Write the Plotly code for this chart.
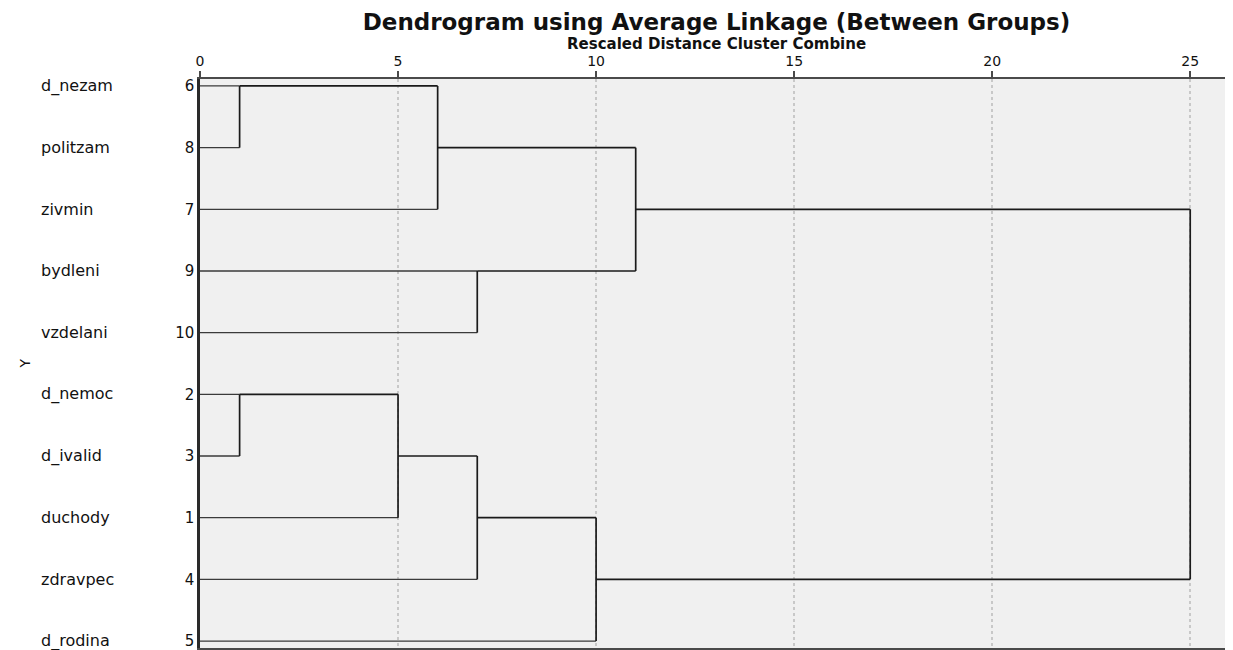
import plotly.graph_objects as go

# Color constants
LINE_DARK = "#1a1a1a"
LEAF_LINE = "#3a3a3a"
AXIS_LINE = "#4a4a4a"
GRID = "#c8c8c8"
PLOT_BG = "#f0f0f0"
TEXT = "#111111"
FONT = "DejaVu Sans"

# Leaves, top to bottom
labels = ["d_nezam", "politzam", "zivmin", "bydleni", "vzdelani",
          "d_nemoc", "d_ivalid", "duchody", "zdravpec", "d_rodina"]
case_numbers = [6, 8, 7, 9, 10, 2, 3, 1, 4, 5]

# Merge steps: (left child, right child, rescaled distance)
# children are case numbers (int) or names of earlier clusters (str)
merge_left = [6, 2, "B", "A", 9, "C", "F", "D", "H"]
merge_right = [8, 3, 1, 7, 10, 4, 5, "E", "G"]
merge_height = [1.0, 1.0, 5.0, 6.0, 7.0, 7.0, 10.0, 11.0, 25.0]
merge_names = ["A", "B", "C", "D", "E", "F", "G", "H", "I"]

x_ticks = [0, 5, 10, 15, 20, 25]

# node positions: y = row index, x = height where node sits
pos_y = {c: i for i, c in enumerate(case_numbers)}
pos_x = {c: 0.0 for c in case_numbers}

leaf_x, leaf_y = [], []
link_x, link_y = [], []
for left, right, h, name in zip(merge_left, merge_right, merge_height, merge_names):
    for child in (left, right):
        seg_x = [pos_x[child], h, None]
        seg_y = [pos_y[child], pos_y[child], None]
        if isinstance(child, int):
            leaf_x += seg_x
            leaf_y += seg_y
        else:
            link_x += seg_x
            link_y += seg_y
    link_x += [h, h, None]
    link_y += [pos_y[left], pos_y[right], None]
    if isinstance(left, int) and isinstance(right, int):
        pos_y[name] = min(pos_y[left], pos_y[right])
    else:
        pos_y[name] = (pos_y[left] + pos_y[right]) / 2
    pos_x[name] = h

fig = go.Figure()
fig.add_trace(go.Scatter(x=leaf_x, y=leaf_y, mode="lines",
                         line=dict(color=LEAF_LINE, width=1.3),
                         hoverinfo="skip", showlegend=False))
fig.add_trace(go.Scatter(x=link_x, y=link_y, mode="lines",
                         line=dict(color=LINE_DARK, width=1.7),
                         hoverinfo="skip", showlegend=False))

n = len(labels)
pad = 0.113

annotations = []
for i, lab in enumerate(labels):
    annotations.append(dict(
        xref="paper", yref="y", x=0, y=i, xshift=-161,
        text=lab, showarrow=False, xanchor="left", yanchor="middle",
        font=dict(family=FONT, size=16, color=TEXT)
    ))

# rotated y axis title
annotations.append(dict(
    xref="paper", yref="paper", x=0, y=0.5, xshift=-176,
    text="Y", textangle=-90, showarrow=False,
    xanchor="center", yanchor="middle",
    font=dict(family=FONT, size=14, color=TEXT)
))

# axis title above tick labels
annotations.append(dict(
    xref="paper", yref="paper", x=0.5, y=1, yshift=35,
    text="<b>Rescaled Distance Cluster Combine</b>", showarrow=False,
    xanchor="center", yanchor="middle",
    font=dict(family=FONT, size=15, color=TEXT)
))

# the page body adds an 8px offset, so the figure is 8px smaller than the window
fig.update_layout(
    width=1225,
    height=642,
    margin=dict(l=192, r=0, t=71, b=0),
    plot_bgcolor=PLOT_BG,
    paper_bgcolor="white",
    title=dict(
        text="<b>Dendrogram using Average Linkage (Between Groups)</b>",
        x=0.5, xref="paper", xanchor="center",
        y=1 - 14 / 642, yref="container", yanchor="middle",
        font=dict(family=FONT, size=23, color=TEXT)
    ),
    xaxis=dict(
        side="top",
        range=[0, 26.08],
        tickvals=x_ticks,
        ticks="outside",
        ticklen=6,
        tickwidth=2,
        tickcolor=AXIS_LINE,
        tickfont=dict(family=FONT, size=14, color=TEXT),
        showline=True,
        linecolor=AXIS_LINE,
        linewidth=1.5,
        mirror=True,
        showgrid=True,
        gridcolor=GRID,
        gridwidth=1.5,
        griddash="dot",
        zeroline=False,
        fixedrange=True,
    ),
    yaxis=dict(
        range=[n - 1 + pad, -pad],
        tickvals=list(range(n)),
        ticktext=[str(c) for c in case_numbers],
        ticks="",
        ticklabeloverflow="allow",
        tickfont=dict(family=FONT, size=15, color=TEXT),
        showline=True,
        linecolor="#2a2a2a",
        linewidth=2.5,
        showgrid=False,
        zeroline=False,
        fixedrange=True,
    ),
    annotations=annotations,
)

fig.write_html("out.html")
